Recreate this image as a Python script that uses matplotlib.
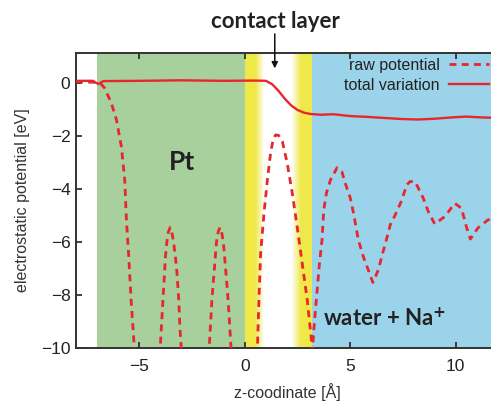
import numpy as np
import matplotlib
matplotlib.use("Agg")
import matplotlib.pyplot as plt

plt.rcParams['font.family'] = ['Liberation Sans', 'DejaVu Sans']

# raw potential (dashed); values below -10 are clipped
raw_z = [-8.0, -7.0, -6.8, -6.64, -6.32, -6.08, -5.85, -5.69, -5.61, -5.5, -5.38, -5.25,
         -5.15, -4.6, -4.1, -4.0, -3.96, -3.88, -3.8, -3.76, -3.69, -3.62, -3.54, -3.46,
         -3.38, -3.29, -3.22, -3.13, -3.07, -3.02, -2.95, -2.35, -1.75, -1.68, -1.56,
         -1.45, -1.34, -1.26, -1.18, -1.1, -1.02, -0.9, -0.79, -0.66, -0.6, 0.0, 0.55,
         0.6, 0.68, 0.75, 0.91, 1.07, 1.23, 1.35, 1.46, 1.6, 1.78, 2.01, 2.25, 2.48,
         2.72, 2.96, 3.16, 3.21, 3.27, 3.4, 3.54, 3.66, 3.74, 3.87, 4.06, 4.37, 4.6,
         4.76, 5.0, 5.15, 5.38, 5.62, 5.85, 6.07, 6.33, 6.49, 6.73, 6.89, 7.2, 7.44,
         7.67, 7.83, 8.07, 8.46, 8.7, 9.0, 9.48, 9.95, 10.27, 10.5, 10.69, 11.05,
         11.52, 12.0]
raw_v = [0.05, 0.02, -0.05, -0.2, -0.77, -1.4, -2.4, -3.66, -5.17, -6.55, -8.3, -9.82,
         -11.0, -13.0, -11.0, -9.9, -9.3, -8.19, -7.1, -6.55, -5.98, -5.62, -5.45, -5.62,
         -5.98, -6.55, -7.1, -8.19, -9.3, -9.9, -10.8, -13.0, -10.8, -9.9, -8.19,
         -7.1, -5.98, -5.62, -5.45, -5.62, -5.98, -7.1, -8.19, -9.9, -10.6, -13.0, -10.5,
         -9.95, -7.94, -6.42, -4.92, -3.66, -2.59, -2.12, -1.96, -1.98, -2.21, -3.03,
         -4.16, -5.42, -6.8, -8.19, -9.7, -10.1, -9.32, -8.08, -6.8, -5.92, -4.8,
         -4.15, -3.66, -3.2, -3.35, -3.78, -4.34, -4.9, -5.92, -6.56, -7.05, -7.53,
         -7.05, -6.55, -5.86, -5.36, -4.86, -4.42, -3.85, -3.72, -3.72, -4.35, -4.86,
         -5.32, -5.04, -4.54, -4.73, -5.42, -5.89, -5.47, -5.17, -5.0]

# total variation (solid)
tot_z = [-8.0, -7.2, -6.95, -6.7, -5.0, -3.0, -1.0, 0.5, 1.0, 1.3, 1.6, 1.9, 2.2, 2.5,
         2.8, 3.1, 3.6, 4.2, 5.0, 5.8, 6.6, 7.4, 8.2, 9.0, 9.8, 10.5, 11.2, 12.0]
tot_v = [0.08, 0.08, -0.04, 0.07, 0.08, 0.1, 0.08, 0.09, 0.08, -0.05, -0.3, -0.6, -0.85,
         -1.02, -1.12, -1.17, -1.2, -1.18, -1.25, -1.28, -1.32, -1.36, -1.38, -1.35,
         -1.3, -1.27, -1.3, -1.32]

# regions along z
pt_range = (-7.0, 0.05)
contact_range = (0.0, 3.16)
water_range = (3.16, 12.0)

red = '#e8262d'
green = '#a8d09c'
blue = '#9bd4ea'
yellow = np.array([0.94, 0.91, 0.29])

fig = plt.figure(figsize=(4.91, 4.03), dpi=100)
ax = fig.add_axes([76/491, 55/403, 422/491, 295/403])
ymin, ymax = -10, 1.13

ax.axvspan(*pt_range, color=green, lw=0, zorder=0)
ax.axvspan(*water_range, color=blue, lw=0, zorder=0)

# yellow fading to white inside the contact layer
gx = np.linspace(contact_range[0], contact_range[1], 300)
w = np.interp(gx, [0.0, 0.5, 0.9, 2.2, 2.65, 3.16], [1, 1, 0, 0, 1, 1])
img = np.ones((1, gx.size, 3)) * (1 - w)[None, :, None] + yellow[None, None, :] * w[None, :, None]
ax.imshow(img, extent=[contact_range[0], contact_range[1], ymin, ymax],
          aspect='auto', zorder=0, interpolation='bilinear')

ax.plot(raw_z, raw_v, color=red, lw=2.0, dashes=(2.5, 1.9), label='raw potential', zorder=3)
ax.plot(tot_z, tot_v, color=red, lw=1.7, label='total variation', zorder=4)

ax.set_xlim(-8, 12)
ax.set_ylim(ymin, ymax)
ax.set_xticks([-5, 0, 5, 10])
ax.set_yticks([0, -2, -4, -6, -8, -10])
ax.tick_params(direction='in', length=4, width=1.2, top=True, labelsize=12.5, colors='#222222')
ax.tick_params(axis='x', pad=8)
ax.tick_params(axis='y', pad=4)
for s in ['left', 'bottom', 'top']:
    ax.spines[s].set_linewidth(1.4)
    ax.spines[s].set_color('#333333')
ax.spines['right'].set_visible(False)

ax.set_xlabel('z-coodinate [Å]', fontsize=11.5, color='#333333')
ax.xaxis.set_label_coords(0.5, -0.12)
ax.set_ylabel('electrostatic potential [eV]', fontsize=11.5, color='#333333')
ax.yaxis.set_label_coords(-0.11, 0.5)

leg = ax.legend(loc='upper right', bbox_to_anchor=(489/491, 345/403),
                bbox_transform=fig.transFigure, frameon=False, markerfirst=False,
                fontsize=11.5, handlelength=2.5, handletextpad=0.6,
                labelspacing=0.3, borderpad=0, borderaxespad=0)
for t in leg.get_texts():
    t.set_color('#222222')

ax.text(-2.97, -3.0, 'Pt', fontsize=19, fontweight='bold', family='Lato',
        ha='center', va='center', color='#222222', zorder=5)
ax.text(6.65, -8.87, r'water + Na$^{\mathbf{+}}$', fontsize=16, fontweight='bold',
        family='Lato', ha='center', va='center', color='#222222', zorder=5)

ax.text(1.46, 2.3, 'contact layer', fontsize=16, fontweight='bold', family='Lato',
        ha='center', va='center', color='#222222', clip_on=False)
ax.annotate('', xy=(1.42, 0.55), xytext=(1.42, 1.85),
            arrowprops=dict(arrowstyle='-|>', color='#111111', lw=1.1,
                            mutation_scale=9, shrinkA=0, shrinkB=0),
            annotation_clip=False)

fig.savefig('out.png', dpi=100)
